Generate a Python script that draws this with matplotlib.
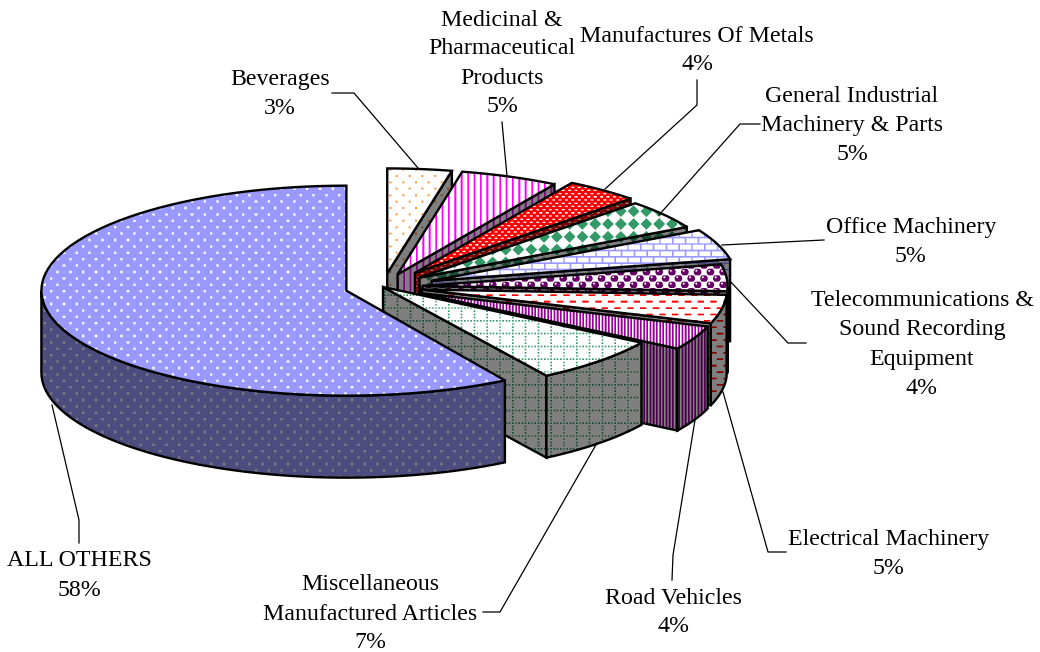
import numpy as np
import matplotlib
matplotlib.use("Agg")
import matplotlib.pyplot as plt
from matplotlib.patches import Polygon

# slices clockwise from 12 o'clock, shares in percent
categories = ["Beverages", "Medicinal &\nPharmaceutical\nProducts", "Manufactures Of Metals",
              "General Industrial\nMachinery & Parts", "Office Machinery",
              "Telecommunications &\nSound Recording\nEquipment", "Electrical Machinery",
              "Road Vehicles", "Miscellaneous\nManufactured Articles", "ALL OTHERS"]
values = [3.4, 5.2, 3.9, 4.5, 4.7, 4.1, 4.4, 3.7, 7.1, 59.0]
pct_labels = ["3%", "5%", "4%", "5%", "5%", "4%", "5%", "4%", "7%", "58%"]
explode = [0.13, 0.13, 0.17, 0.15, 0.17, 0.13, 0.13, 0.13, 0.0, 0.125]
trim_start = [0, 0, 0, 0, 0, 0, 0, 0, 0, 0.019]

W, H = 1040, 652
CX, CY = 383, 287
RX, RY = 305, 105
DEPTH = 82
P = 12.8
SS = 3

Y, X = (np.mgrid[0:H * SS, 0:W * SS] + 0.5) / SS


def dots(px, py, sx, sy):
    row = np.floor(Y / py)
    u = (X + 0.5 * px * (row % 2)) % px
    v = Y % py
    return (np.abs(u - px / 2) < sx) & (np.abs(v - py / 2) < sy)


def pat_stripes(period, width):
    return (X % period) < width


def pat_diamonds():
    u = (X % P) - P / 2
    v = (Y % P) - P / 2
    return (np.abs(u) + np.abs(v)) < P / 2 - 0.5


def pat_bricks():
    row = np.floor(Y / (P / 2))
    u = (X + (row % 2) * P / 2) % P
    return ((Y % (P / 2)) < 1.6) | (u < 1.6)


def pat_spheres():
    row = np.floor(Y / (P / 2))
    u = (X + (row % 2) * P / 2) % P - P / 2
    v = (Y % (P / 2)) - P / 4
    ball = u ** 2 + v ** 2 < 3.8 ** 2
    shine = (u + 1.2) ** 2 + (v + 1.2) ** 2 < 1.0
    return ball & ~shine


def pat_dashes():
    row = np.floor(Y / (P / 2))
    u = (X + (row % 2) * P / 2) % P
    return (u < 6.4) & ((Y % (P / 2)) < 1.7)


def pat_grid():
    on_v = (X % P) < 1.6
    on_h = (Y % P) < 1.6
    return (on_v & (Y % 3.2 < 1.6)) | (on_h & (X % 3.2 < 1.6))


# (foreground, background, mask) of each slice
textures = [
    ((1.0, 0.6, 0.2), (1, 1, 1), dots(P, P / 2, 1.0, 1.0)),
    ((1.0, 0.0, 1.0), (1, 1, 1), pat_stripes(P / 2, 1.8)),
    ((1.0, 1.0, 1.0), (1.0, 0.0, 0.0), dots(P / 2, P / 4, 1.4, 0.7)),
    ((0.2, 0.6, 0.4), (1, 1, 1), pat_diamonds()),
    ((0.6, 0.6, 1.0), (1, 1, 1), pat_bricks()),
    ((0.4, 0.0, 0.4), (1, 1, 1), pat_spheres()),
    ((1.0, 0.0, 0.0), (1, 1, 1), pat_dashes()),
    ((0.6, 0.0, 0.6), (1, 1, 1), pat_stripes(P / 4, 1.7)),
    ((0.2, 0.6, 0.4), (1, 1, 1), pat_grid()),
    ((1.0, 1.0, 1.0), (0.6, 0.6, 1.0), dots(P, P / 2, 1.2, 1.2)),
]


def make_image(fg, bg, mask, shade):
    # average the fine mask down to screen pixels
    cover = mask.reshape(H, SS, W, SS).mean(axis=(1, 3))[..., None]
    return (cover * np.array(fg, float) + (1 - cover) * np.array(bg, float)) * shade


fig = plt.figure(figsize=(W / 100, H / 100), dpi=100)
ax = fig.add_axes([0, 0, 1, 1])
ax.set_xlim(0, W)
ax.set_ylim(H, 0)
ax.axis("off")
ax.set_autoscale_on(False)

z = [1]


def face(pts, img, lw=1.7):
    z[0] += 1
    outline = Polygon(pts, closed=True, fc="none", ec="none", zorder=z[0])
    ax.add_patch(outline)
    im = ax.imshow(img, extent=(0, W, H, 0), interpolation="nearest", aspect="auto", zorder=z[0])
    im.set_clip_path(outline)
    z[0] += 1
    ax.add_patch(Polygon(pts, closed=True, fc="none", ec="black", lw=lw, joinstyle="miter", zorder=z[0]))


def point(apex, theta, dz=0):
    return (apex[0] + RX * np.sin(theta), apex[1] - RY * np.cos(theta) + dz)


shares = np.array(values) / np.sum(values)
edges = np.concatenate([[0], np.cumsum(shares)]) * 2 * np.pi

for i in range(len(values)):
    a0, a1 = edges[i] + trim_start[i], edges[i + 1]
    mid = (edges[i] + a1) / 2
    apex = (CX + explode[i] * RX * np.sin(mid), CY - explode[i] * RY * np.cos(mid))
    fg, bg, mask = textures[i]
    top = make_image(fg, bg, mask, 1.0)
    side = make_image(fg, bg, mask, 0.5)

    # cut face looking towards the viewer
    if a1 < np.pi:
        p = point(apex, a1)
        face([apex, p, (p[0], p[1] + DEPTH), (apex[0], apex[1] + DEPTH)], side)
    if a0 > np.pi:
        p = point(apex, a0)
        face([apex, p, (p[0], p[1] + DEPTH), (apex[0], apex[1] + DEPTH)], side)

    # outer wall, only the part on the near half
    w0, w1 = max(a0, np.pi / 2), min(a1, 1.5 * np.pi)
    if w1 > w0:
        t = np.linspace(w0, w1, 60)
        up = [point(apex, v) for v in t]
        down = [point(apex, v, DEPTH) for v in t[::-1]]
        face(up + down, side)

    t = np.linspace(a0, a1, 80)
    face([apex] + [point(apex, v) for v in t], top)

# leader lines
leaders = [
    ([332, 354, 418], [93, 93, 168]),
    ([502, 507], [122, 176]),
    ([697, 697, 605], [80, 105, 189]),
    ([760, 740, 659], [124, 124, 215]),
    ([824, 722], [240, 245]),
    ([806, 788, 729], [343, 343, 280]),
    ([786, 768, 723], [552, 552, 392]),
    ([672, 673, 695], [580, 555, 420]),
    ([483, 500, 597], [612, 612, 443]),
    ([79, 79, 52], [543, 520, 405]),
]
for lx, ly in leaders:
    ax.plot(lx, ly, color="black", lw=0.9, zorder=500)

# labels: centre x, first line y
label_pos = [(280, 79), (502, 20), (697, 36), (852, 97), (911, 227),
             (922, 301), (889, 540), (673, 598), (370, 585), (79, 561)]
LINE = 29
for name, pct, (tx, ty) in zip(categories, pct_labels, label_pos):
    lines = name.split("\n") + [pct]
    for k, s in enumerate(lines):
        ax.text(tx, ty + k * LINE, s, ha="center", va="center", fontsize=17.2,
                family=["Liberation Serif", "DejaVu Serif"], zorder=600)

fig.savefig("out.png", dpi=100)
